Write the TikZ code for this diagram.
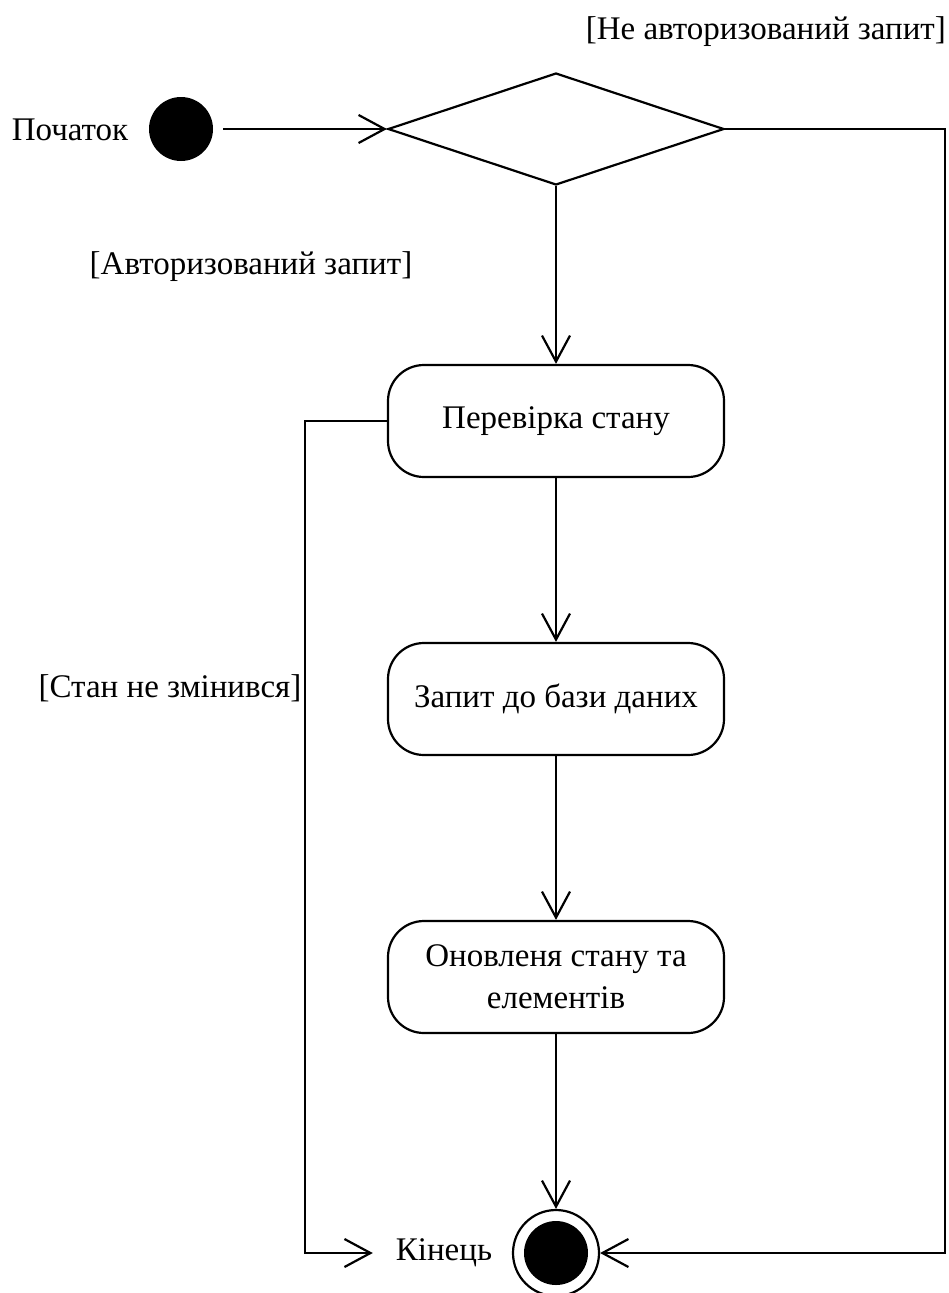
\documentclass[tikz,border=0pt]{standalone}
\usepackage{fontspec}
\setmainfont{Liberation Serif}
\usetikzlibrary{arrows.meta,shapes.geometric}

\begin{document}
\begin{tikzpicture}[x=1pt,y=-1pt,line width=2.2pt,
    txt/.style={font=\fontsize{33}{42}\selectfont,inner sep=0pt},
    act/.style={draw,rounded corners=36pt,minimum width=336pt,minimum height=112pt,
      align=center,font=\fontsize{33}{42}\selectfont,inner sep=0pt},
    flow/.style={-{Straight Barb[length=26pt,width=28pt,line width=2.2pt]}}]
  \useasboundingbox (0,0) rectangle (949,1293);

  % initial node and decision
  \node[txt] (lstart) at (70,130) {Початок};
  \node[circle,fill,minimum size=64pt,inner sep=0pt] (start) at (181,129) {};
  \node[diamond,draw,minimum width=336pt,minimum height=112pt,inner sep=0pt] (dec) at (556,129) {};

  % actions
  \node[act] (a1) at (556,421) {Перевірка стану};
  \node[act] (a2) at (556,699) {Запит до бази даних};
  \node[act] (a3) at (556,977) {Оновленя стану та\\елементів};

  % final node
  \node[circle,draw,minimum size=86pt,inner sep=0pt] (fin) at (556,1253) {};
  \node[circle,fill,minimum size=64pt,inner sep=0pt] (finc) at (fin) {};
  \node[txt] (lend) at (444,1253) {Кінець};

  % guards
  \node[txt,anchor=east] (gna) at (947,32) {[Не авторизований запит]};
  \node[txt] (ga) at (251,267) {[Авторизований запит]};
  \node[txt] (gs) at (170,688) {[Стан не змінився]};

  % bend points
  \coordinate (rt) at (945,129);
  \coordinate (lt) at (305,421);

  % flows
  \draw[flow,shorten <=9pt] (start) -- (dec.west);
  \draw[flow] (dec.south) -- (a1.north);
  \draw[flow] (a1) -- (a2);
  \draw[flow] (a2) -- (a3);
  \draw[flow] (a3) -- (fin);
  \draw[flow] (dec.east) -- (rt) |- (fin);
  \draw[flow,shorten >=22pt] (a1.west) -- (lt) |- (lend.west);
\end{tikzpicture}
\end{document}
